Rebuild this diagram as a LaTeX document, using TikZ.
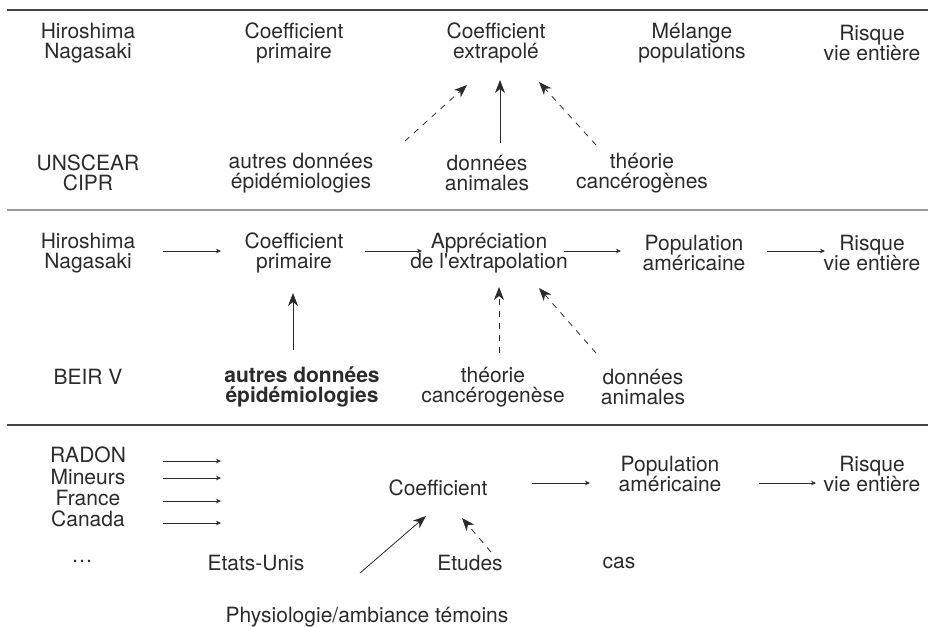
\documentclass[tikz,border=0pt]{standalone}
\usepackage{fontspec}
\setmainfont{TeX Gyre Heros}
\usetikzlibrary{arrows.meta,calc}

\definecolor{inkgray}{HTML}{2B2B2B}
\definecolor{rulegray}{HTML}{444444}
\definecolor{midgray}{HTML}{999999}

\tikzset{
  lbl/.style={align=center, inner sep=0pt, text=inkgray,
    font=\fontsize{21}{20.5}\selectfont},
  flow/.style={-{Stealth[length=5pt,width=4.5pt]}, draw=inkgray, line width=0.8pt},
  feed/.style={-{Stealth[length=13pt,width=10pt,inset=4pt]}, draw=inkgray, line width=0.8pt},
  hint/.style={feed, dash pattern=on 6pt off 6pt},
  sepline/.style={line width=1.5pt}
}

\begin{document}
\begin{tikzpicture}[x=1pt,y=-1pt]
  \useasboundingbox (0,0) rectangle (928,626);

  % separating rules
  \draw[sepline, rulegray] (7,10) -- (928,10);
  \draw[sepline, midgray] (7,210) -- (928,210);
  \draw[sepline, rulegray] (7,425) -- (928,425);

  % UNSCEAR / CIPR
  \node[lbl] (hn1) at (88,43) {Hiroshima\\Nagasaki};
  \node[lbl] (cp1) at (294,43) {Coefficient\\primaire};
  \node[lbl] (ce1) at (496,43) {Coefficient\\extrapolé};
  \node[lbl] (mp1) at (692,43) {Mélange\\populations};
  \node[lbl] (rv1) at (872,43) {Risque\\vie entière};
  \node[lbl] (un1) at (88,173) {UNSCEAR\\CIPR};
  \node[lbl] (ad1) at (301,173) {autres données\\épidémiologies};
  \node[lbl] (da1) at (487,173) {données\\animales};
  \node[lbl] (tc1) at (642,173) {théorie\\cancérogènes};

  \draw[hint] ($(ad1)+(104,-32)$) -- ($(ce1)+(-29,42)$);
  \draw[feed] ($(da1)+(13,-30)$) -- ($(ce1)+(4,37)$);
  \draw[hint] ($(tc1)+(-46,-28)$) -- ($(ce1)+(43,39)$);

  % BEIR V
  \node[lbl] (hn2) at (88,253) {Hiroshima\\Nagasaki};
  \node[lbl] (cp2) at (294,253) {Coefficient\\primaire};
  \node[lbl] (ap2) at (489,253) {Appréciation\\de l\textquotesingle extrapolation};
  \node[lbl] (pa2) at (694,253) {Population\\américaine};
  \node[lbl] (rv2) at (872,253) {Risque\\vie entière};
  \node[lbl] (be2) at (88,377) {BEIR V};
  \node[lbl, font=\fontsize{21}{20.5}\selectfont\bfseries] (ad2) at (302,387) {autres données\\épidémiologies};
  \node[lbl] (tc2) at (493,387) {théorie\\cancérogenèse};
  \node[lbl] (da2) at (643,387) {données\\animales};

  \draw[flow] ($(hn2)+(75,-2)$) -- ($(cp2)+(-73,-2)$);
  \draw[flow] ($(cp2)+(71,-2)$) -- ($(ap2)+(-67,-2)$);
  \draw[flow] ($(ap2)+(75,-2)$) -- ($(pa2)+(-73,-2)$);
  \draw[flow] ($(pa2)+(73,-2)$) -- ($(rv2)+(-47,-2)$);
  \draw[feed] ($(ad2)+(-9,-37)$) -- ($(cp2)+(-1,40)$);
  \draw[hint] ($(tc2)+(6,-34)$) -- ($(ap2)+(10,34)$);
  \draw[hint] ($(da2)+(-47,-34)$) -- ($(ap2)+(50,35)$);

  % RADON
  \node[lbl] (ra3) at (88,455) {RADON};
  \node[lbl] (mi3) at (88,477) {Mineurs};
  \node[lbl] (fr3) at (88,498) {France};
  \node[lbl] (ca3) at (88,519) {Canada};
  \node[lbl] (do3) at (82,561) {\ldots};
  \node[lbl] (eu3) at (256,563) {Etats-Unis};
  \node[lbl] (co3) at (438,488) {Coefficient};
  \node[lbl] (et3) at (470,563) {Etudes};
  \node[lbl] (cs3) at (619,563) {cas};
  \node[lbl] (pa3) at (670,474) {Population\\américaine};
  \node[lbl] (rv3) at (872,474) {Risque\\vie entière};
  \node[lbl] (ph3) at (367,617) {Physiologie/ambiance témoins};

  \foreach \name/\y in {ra/461, mi/478, fr/501, ca/523} {
    \coordinate (\name a) at (163,\y);
    \coordinate (\name b) at (221,\y);
    \draw[flow] (\name a) -- (\name b);
  }
  \draw[flow] ($(co3)+(94,-5)$) -- ($(pa3)+(-80,9)$);
  \draw[flow] ($(pa3)+(89,9)$) -- ($(rv3)+(-56,9)$);
  \draw[feed] ($(ph3)+(-7,-44)$) -- ($(co3)+(-12,28)$);
  \draw[hint] ($(et3)+(21,-11)$) -- ($(co3)+(24,30)$);
\end{tikzpicture}
\end{document}
